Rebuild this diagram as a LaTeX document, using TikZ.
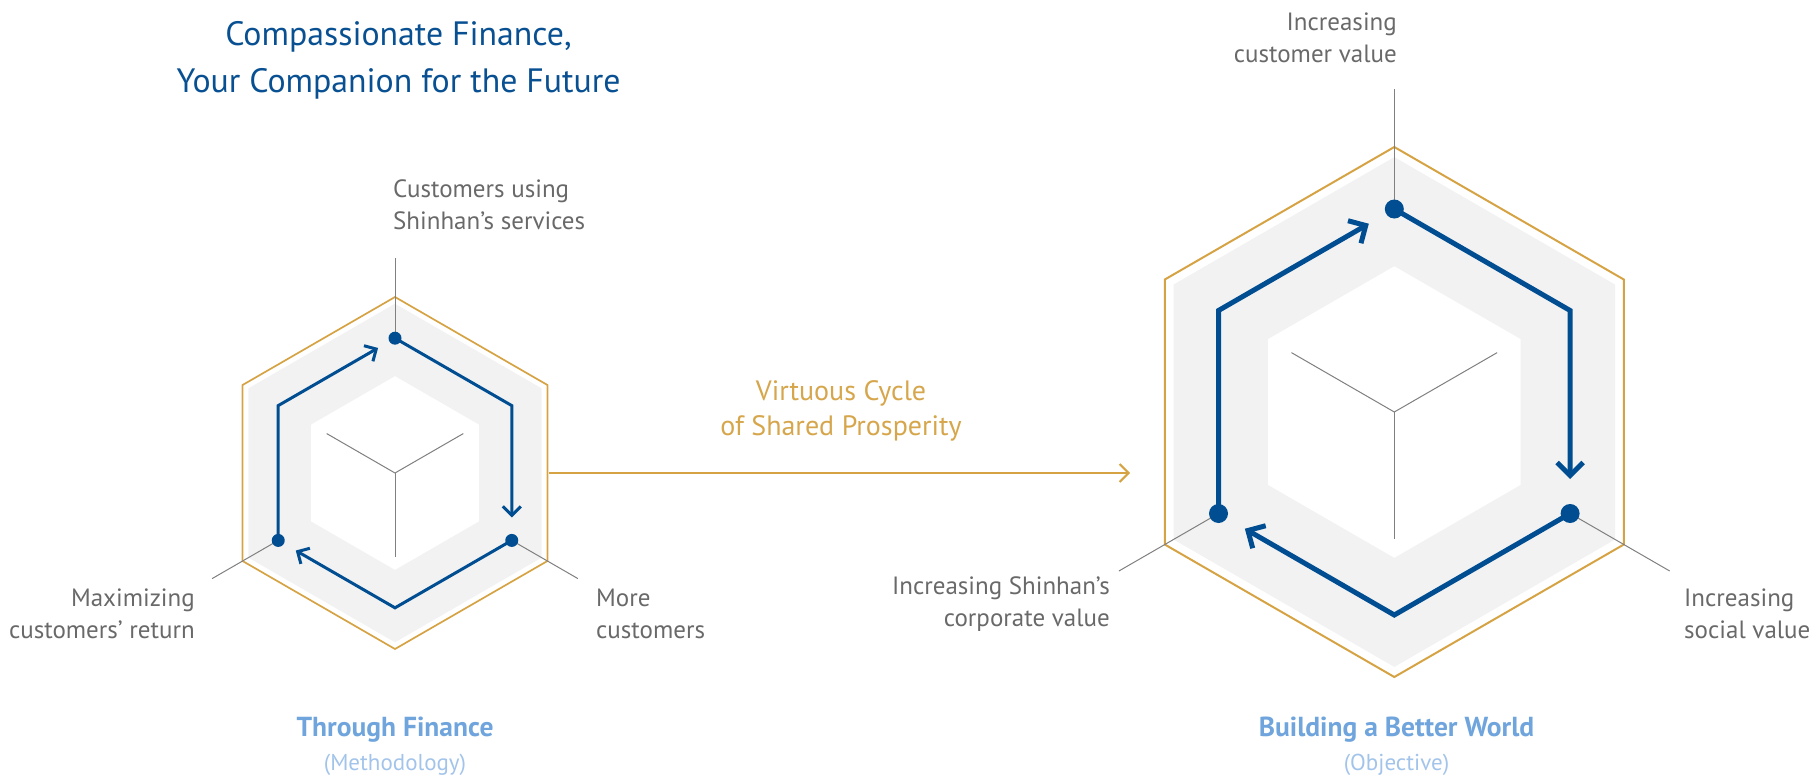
\documentclass[tikz,border=0pt]{standalone}
\usepackage{fontspec}
\setmainfont{PT Sans}
\usetikzlibrary{arrows.meta,calc}
\definecolor{dkblue}{RGB}{0,78,145}
\definecolor{titleblue}{RGB}{8,80,145}
\definecolor{goldc}{RGB}{214,163,68}
\definecolor{goldtext}{RGB}{214,166,76}
\definecolor{ltblue}{RGB}{111,165,220}
\definecolor{ltbluetwo}{RGB}{163,196,234}
\definecolor{labelgray}{RGB}{105,105,105}
\definecolor{axisgray}{RGB}{128,128,128}
\definecolor{hexfill}{RGB}{242,242,242}

\newcommand\mlines[2]{\begin{tabular}[t]{@{}#1@{}}#2\end{tabular}}

% #1 name, #2 cx, #3 cy, #4 R, #5 gold width, #6 blue width, #7 dot radius, #8 arrow length, #9 arrow width
\newcommand\hexunit[9]{%
 \begin{scope}[shift={(#2,#3)}]
  \coordinate (#1-c) at (0,0);
  \fill[hexfill] (-90:{0.962*#4}) -- (-30:{0.962*#4}) -- (30:{0.962*#4}) -- (90:{0.962*#4}) -- (150:{0.962*#4}) -- (210:{0.962*#4}) -- cycle;
  \fill[white] (-90:{0.55*#4}) -- (-30:{0.55*#4}) -- (30:{0.55*#4}) -- (90:{0.55*#4}) -- (150:{0.55*#4}) -- (210:{0.55*#4}) -- cycle;
  \draw[goldc, line width=#5, line join=miter] (-90:#4) -- (-30:#4) -- (30:#4) -- (90:#4) -- (150:#4) -- (210:#4) -- cycle;
  \coordinate (#1-east) at (0:{0.866*#4+1.5});
  \draw[axisline] (#1-c) -- (210:{0.448*#4});
  \draw[axisline] (#1-c) -- (-30:{0.448*#4});
  \draw[axisline] (#1-c) -- (90:{0.478*#4});
  \coordinate (#1-top) at (-90:{0.766*#4});
  \coordinate (#1-ur) at (-30:{0.766*#4});
  \coordinate (#1-lr) at (30:{0.766*#4});
  \coordinate (#1-bot) at (90:{0.766*#4});
  \coordinate (#1-ll) at (150:{0.766*#4});
  \coordinate (#1-ul) at (210:{0.766*#4});
  \coordinate (#1-atop) at (-90:{1.22*#4});
  \coordinate (#1-alr) at (30:{1.2*#4});
  \coordinate (#1-all) at (150:{1.2*#4});
  \draw[axisline] (#1-top) -- (#1-atop);
  \draw[axisline] (#1-lr) -- (#1-alr);
  \draw[axisline] (#1-ll) -- (#1-all);
  \coordinate (#1-eA) at ($(#1-lr)!0.17!(#1-ur)$);
  \coordinate (#1-eB) at ($(#1-ll)!0.15!(#1-bot)$);
  \coordinate (#1-eC) at ($(#1-top)!0.145!(#1-ul)$);
  \draw[cyclepath, line width=#6, -{Straight Barb[length=#8, width=#9]}] (#1-top) -- (#1-ur) -- (#1-eA);
  \draw[cyclepath, line width=#6, -{Straight Barb[length=#8, width=#9]}] (#1-lr) -- (#1-bot) -- (#1-eB);
  \draw[cyclepath, line width=#6, -{Straight Barb[length=#8, width=#9]}] (#1-ll) -- (#1-ul) -- (#1-eC);
  \fill[dkblue] (#1-top) circle[radius=#7];
  \fill[dkblue] (#1-lr) circle[radius=#7];
  \fill[dkblue] (#1-ll) circle[radius=#7];
 \end{scope}}

\begin{document}
\begin{tikzpicture}[x=1pt, y=-1pt,
  axisline/.style={axisgray, line width=1},
  cyclepath/.style={dkblue, line join=miter},
  label/.style={inner sep=0, text=labelgray, font=\fontsize{25}{32}\selectfont},
  titletext/.style={inner sep=0, text=titleblue, font=\fontsize{33.8}{47.5}\selectfont},
  goldlabel/.style={inner sep=0, text=goldtext, font=\fontsize{28}{35}\selectfont},
  caption/.style={inner sep=0, font=\fontsize{27.5}{34}\selectfont}]
\useasboundingbox (0,0) rectangle (1810,777);

\hexunit{L}{395}{473}{176}{1.7}{3}{6.5}{9pt}{18pt}
\hexunit{R}{1394.3}{412}{265}{2}{5}{9.5}{13pt}{26pt}

% connector between the two hexagons
\coordinate (arrowend) at (1130,473);
\draw[goldc, line width=2, -{Straight Barb[length=9pt, width=18pt]}] (L-east) -- (arrowend);

% texts
\node[titletext, anchor=base] (title) at (398.5,45) {\mlines{c}{Compassionate Finance,\\Your Companion for the Future}};
\node[goldlabel, anchor=base] (virtuous) at (841,400) {\mlines{c}{Virtuous Cycle\\of Shared Prosperity}};

\node[label, anchor=base west] (cust) at (393,197) {\mlines{l}{Customers using\\Shinhan’s services}};
\node[label, anchor=base east] (maxi) at (195,606) {\mlines{r}{Maximizing\\customers’ return}};
\node[label, anchor=base west] (more) at (596,606) {\mlines{l}{More\\customers}};

\node[label, anchor=base east] (incust) at (1397,30) {\mlines{r}{Increasing\\customer value}};
\node[label, anchor=base east] (incorp) at (1110,594) {\mlines{r}{Increasing Shinhan’s\\corporate value}};
\node[label, anchor=base west] (insoc) at (1684,606) {\mlines{l}{Increasing\\social value}};

\node[caption, anchor=base] (through) at (395,736) {\mlines{c}{\textcolor{ltblue}{\bfseries Through Finance}\\\textcolor{ltbluetwo}{\fontsize{23}{34}\selectfont (Methodology)}}};
\node[caption, anchor=base] (building) at (1396.5,736) {\mlines{c}{\textcolor{ltblue}{\bfseries Building a Better World}\\\textcolor{ltbluetwo}{\fontsize{23}{34}\selectfont (Objective)}}};
\end{tikzpicture}
\end{document}
